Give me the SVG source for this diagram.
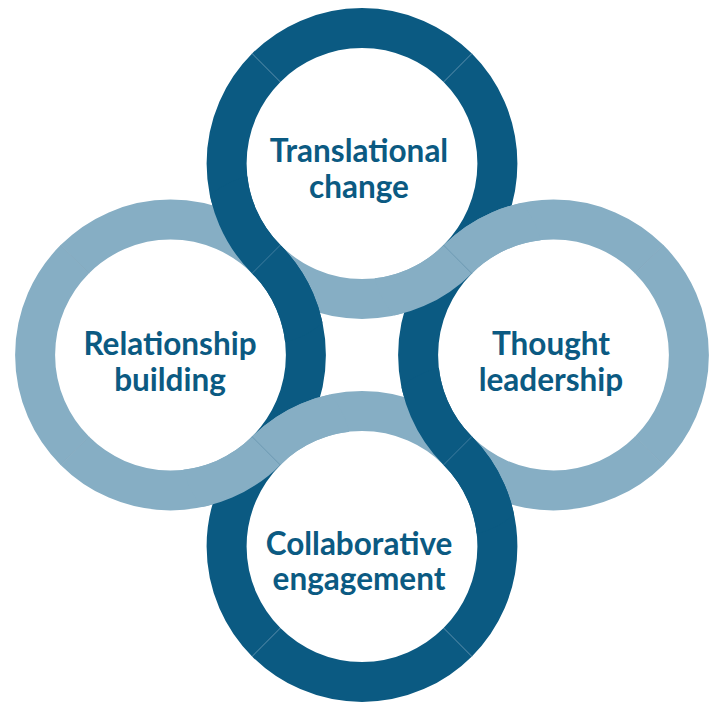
<svg xmlns="http://www.w3.org/2000/svg" xmlns:xlink="http://www.w3.org/1999/xlink" width="716" height="704" viewBox="0 0 716 704">
<style>
.dk{fill:none;stroke:#0B5A82;stroke-width:40;stroke-linecap:butt}
.lt{fill:none;stroke:#86AEC4;stroke-width:40;stroke-linecap:butt}
.lbl{font-family:Lato,"Liberation Sans",sans-serif;font-weight:700;font-size:31.5px;fill:#0B5A82;text-anchor:middle}
.sd{stroke:#5F90B0;stroke-width:0.8;stroke-opacity:0.7}
.sl{stroke:#6E99B2;stroke-width:0.8;stroke-opacity:0.7}
</style>
<defs>
<clipPath id="cTL"><circle cx="266.25" cy="259.25" r="85"/></clipPath>
<clipPath id="cTR"><circle cx="457.75" cy="259.25" r="85"/></clipPath>
<clipPath id="cBL"><circle cx="266.25" cy="450.75" r="85"/></clipPath>
<clipPath id="cBR"><circle cx="457.75" cy="450.75" r="85"/></clipPath>
</defs>
<rect width="716" height="704" fill="#FFFFFF"/>
<g id="node-translational">
<path id="T-top" class="dk" d="M266.26,67.76 A135.4,135.4 0 0 1 457.74,67.76"/>
<path id="T-right" class="dk" d="M457.74,67.76 A135.4,135.4 0 0 1 457.74,259.24"/>
<path id="T-bottom" class="lt" d="M457.74,259.24 A135.4,135.4 0 0 1 266.26,259.24"/>
<path id="T-left" class="dk" d="M266.26,259.24 A135.4,135.4 0 0 1 266.26,67.76"/>
</g>
<g id="node-relationship">
<path id="L-top" class="lt" d="M74.76,259.26 A135.4,135.4 0 0 1 266.24,259.26"/>
<path id="L-right" class="dk" d="M266.24,259.26 A135.4,135.4 0 0 1 266.24,450.74"/>
<path id="L-bottom" class="lt" d="M266.24,450.74 A135.4,135.4 0 0 1 74.76,450.74"/>
<path id="L-left" class="lt" d="M74.76,450.74 A135.4,135.4 0 0 1 74.76,259.26"/>
</g>
<g id="node-thought">
<path id="R-top" class="lt" d="M457.76,259.26 A135.4,135.4 0 0 1 649.24,259.26"/>
<path id="R-right" class="lt" d="M649.24,259.26 A135.4,135.4 0 0 1 649.24,450.74"/>
<path id="R-bottom" class="lt" d="M649.24,450.74 A135.4,135.4 0 0 1 457.76,450.74"/>
<path id="R-left" class="dk" d="M457.76,450.74 A135.4,135.4 0 0 1 457.76,259.26"/>
</g>
<g id="node-collaborative">
<path id="B-top" class="lt" d="M266.26,450.76 A135.4,135.4 0 0 1 457.74,450.76"/>
<path id="B-right" class="dk" d="M457.74,450.76 A135.4,135.4 0 0 1 457.74,642.24"/>
<path id="B-bottom" class="dk" d="M457.74,642.24 A135.4,135.4 0 0 1 266.26,642.24"/>
<path id="B-left" class="dk" d="M266.26,642.24 A135.4,135.4 0 0 1 266.26,450.76"/>
</g>
<g id="connectors">
<g clip-path="url(#cTL)">
<use xlink:href="#T-left" href="#T-left"/>
<use xlink:href="#L-right" href="#L-right"/>
</g>
<g clip-path="url(#cTR)">
<use xlink:href="#T-bottom" href="#T-bottom"/>
<use xlink:href="#R-top" href="#R-top"/>
</g>
<g clip-path="url(#cBL)">
<use xlink:href="#L-bottom" href="#L-bottom"/>
<use xlink:href="#B-top" href="#B-top"/>
</g>
<g clip-path="url(#cBR)">
<use xlink:href="#R-left" href="#R-left"/>
<use xlink:href="#B-right" href="#B-right"/>
</g>
<line class="sd" x1="280.40" y1="81.90" x2="252.12" y2="53.62"/>
<line class="sd" x1="443.60" y1="81.90" x2="471.88" y2="53.62"/>
<line class="sd" x1="280.40" y1="245.10" x2="252.12" y2="273.38"/>
<line class="sl" x1="443.60" y1="245.10" x2="471.88" y2="273.38"/>
<line class="sd" x1="280.40" y1="628.10" x2="252.12" y2="656.38"/>
<line class="sd" x1="443.60" y1="628.10" x2="471.88" y2="656.38"/>
<line class="sl" x1="280.40" y1="464.90" x2="252.12" y2="436.62"/>
<line class="sd" x1="443.60" y1="464.90" x2="471.88" y2="436.62"/>
<line class="sl" x1="88.90" y1="273.40" x2="60.62" y2="245.12"/>
<line class="sl" x1="88.90" y1="436.60" x2="60.62" y2="464.88"/>
<line class="sl" x1="635.10" y1="273.40" x2="663.38" y2="245.12"/>
<line class="sl" x1="635.10" y1="436.60" x2="663.38" y2="464.88"/>
</g>
<g id="labels">
<text class="lbl" x="359" y="161.5">Translational</text>
<text class="lbl" x="359" y="197.5">change</text>
<text class="lbl" x="170" y="355">Relationship</text>
<text class="lbl" x="170" y="391">building</text>
<text class="lbl" x="551" y="355">Thought</text>
<text class="lbl" x="551" y="391">leadership</text>
<text class="lbl" x="359" y="554.5">Collaborative</text>
<text class="lbl" x="359" y="590">engagement</text>
</g>
</svg>
